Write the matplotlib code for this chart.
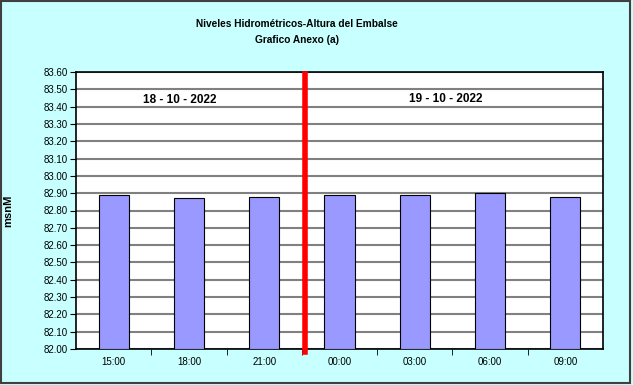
import matplotlib.pyplot as plt
from matplotlib.patches import Rectangle

# Data
horas = ["15:00", "18:00", "21:00", "00:00", "03:00", "06:00", "09:00"]
niveles = [82.89, 82.87, 82.88, 82.89, 82.89, 82.90, 82.88]
fechas = ["18 - 10 - 2022", "19 - 10 - 2022"]
yticks = [82.00 + 0.1 * i for i in range(17)]

plt.rcParams['font.family'] = ['Liberation Sans', 'DejaVu Sans']

fig = plt.figure(figsize=(6.33, 3.85), dpi=100)
fig.patch.set_facecolor('#C8FFFF')
ax = fig.add_axes([76 / 633, 1 - 349 / 385, 527 / 633, 277 / 385])
ax.set_facecolor('white')

x = list(range(len(horas)))
ax.bar(x, [v - 82.0 for v in niveles], bottom=82.0, width=0.4,
       color='#9999FF', edgecolor='black', linewidth=0.8, zorder=3)

ax.set_xlim(-0.5, len(horas) - 0.5)
ax.set_ylim(82.0, 83.6)
ax.set_yticks(yticks)
ax.set_yticklabels([f"{t:.2f}" for t in yticks], fontsize=7)
ax.yaxis.grid(True, color='#808080', linewidth=1.5, zorder=0)
ax.set_axisbelow(True)

ax.set_xticks(x)
ax.set_xticklabels(horas, fontsize=7)
ax.tick_params(axis='x', length=0, pad=6)
ax.set_xticks([i + 0.5 for i in x[:-1]], minor=True)
ax.tick_params(axis='x', which='minor', length=4, direction='out')
ax.tick_params(axis='y', length=4, direction='out', pad=2)

for s in ax.spines.values():
    s.set_linewidth(1.2)

# day separator
ax.plot([2.54, 2.54], [82.0 - 0.02, 83.59], color='red', linewidth=4,
        zorder=5, clip_on=False)

ax.text(0.88, 83.44, fechas[0], ha='center', va='center', fontsize=8.5, fontweight='bold')
ax.text(4.41, 83.445, fechas[1], ha='center', va='center', fontsize=8.5, fontweight='bold')

ax.set_ylabel("msnM", fontsize=8, fontweight='bold', labelpad=22)

fig.text(297 / 633, 1 - 24 / 385, "Niveles Hidrométricos-Altura del Embalse",
         ha='center', va='center', fontsize=7.3, fontweight='bold')
fig.text(297 / 633, 1 - 40 / 385, "Grafico Anexo (a)",
         ha='center', va='center', fontsize=7.3, fontweight='bold')

fig.patches.append(Rectangle((0.002, 0.004), 0.994, 0.993, transform=fig.transFigure,
                             fill=False, edgecolor='#404040', linewidth=1.5))

fig.savefig("out.png", dpi=100, facecolor=fig.get_facecolor())
